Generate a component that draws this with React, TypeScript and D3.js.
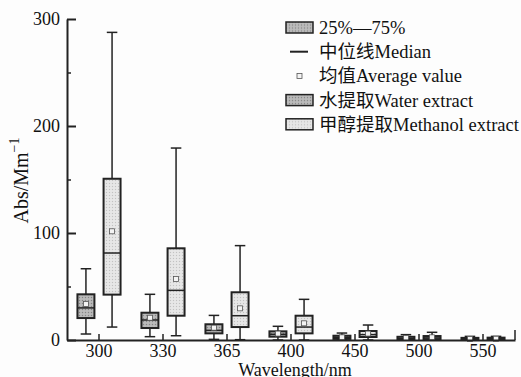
import React, { useRef, useEffect } from 'react';
import * as d3 from 'd3';

// wavelengths (nm)
const categories = ['300', '330', '365', '400', '450', '500', '550'];

// water extract box stats
const waterMin = [5.6, 3.1, 0.6, 0, 0, 0, 0];
const waterQ1 = [20.5, 11.2, 6.2, 3.1, 1, 0.5, 0.3];
const waterMedian = [30, 18.7, 9, 5.3, 2.5, 1.5, 1];
const waterQ3 = [42.7, 25.5, 14.7, 8.1, 4, 3, 2];
const waterMax = [66.6, 42.7, 23, 12.8, 6.5, 5, 3.4];
const waterMean = [33.6, 20.8, 11.5, 6, 2.5, 2, 1];

// methanol extract box stats
const methMin = [12.1, 4.0, 0.3, 0, 0, 0, 0];
const methQ1 = [42.4, 22.7, 12.1, 6.2, 2.8, 0.8, 0.3];
const methMedian = [81.3, 46.4, 22.7, 12.1, 5, 2, 1];
const methQ3 = [150.7, 85.7, 44.6, 22.7, 8.4, 3.7, 2.2];
const methMax = [287.5, 179.4, 88.2, 38, 14, 7.2, 3.4];
const methMean = [101.6, 57, 29.6, 15.6, 6, 2.5, 1.2];

const yTicks = [0, 100, 200, 300];
const yMinorTicks = [50, 150, 250];

const legendItems = ['25%—75%', '中位线Median', '均值Average value', '水提取Water extract', '甲醇提取Methanol extract'];

const width = 521;
const height = 377;
const FONT = "'Liberation Serif', 'Times New Roman', 'Noto Sans CJK SC', serif";

const x = d3.scaleBand().domain(categories).range([67, 515]).paddingInner(0).paddingOuter(0);
const sub = d3.scaleBand().domain(['water', 'meth']).range([0, x.bandwidth()]).paddingInner(0.35).paddingOuter(0.4);
const y = d3.scaleLinear().domain([0, 300]).range([340, 19]);

const series = [
  { key: 'water', fill: 'url(#patWater)', min: waterMin, q1: waterQ1, med: waterMedian, q3: waterQ3, max: waterMax, mean: waterMean },
  { key: 'meth', fill: 'url(#patMeth)', min: methMin, q1: methQ1, med: methMedian, q3: methQ3, max: methMax, mean: methMean },
];

const App = () => {
  const xAxisRef = useRef<SVGGElement>(null);
  const yAxisRef = useRef<SVGGElement>(null);
  const yMinorRef = useRef<SVGGElement>(null);

  useEffect(() => {
    const gx = d3.select(xAxisRef.current);
    gx.call(d3.axisBottom(x).tickSizeInner(-6).tickSizeOuter(0).tickPadding(4) as any);
    gx.selectAll('text').attr('font-size', 18).attr('font-family', FONT).attr('fill', '#111');
    gx.select('.domain').attr('stroke-width', 2).attr('stroke', '#222');
    gx.selectAll('.tick line').attr('stroke-width', 1.5).attr('stroke', '#222');
    gx.selectAll('.end-tick').remove();
    gx.append('line')
      .attr('class', 'end-tick')
      .attr('x1', x.range()[1]).attr('x2', x.range()[1])
      .attr('y1', 0).attr('y2', -10)
      .attr('stroke', '#222').attr('stroke-width', 1.5);

    const gy = d3.select(yAxisRef.current);
    gy.call(d3.axisLeft(y).tickValues(yTicks).tickSizeInner(-9).tickSizeOuter(0).tickPadding(7) as any);
    gy.selectAll('text').attr('font-size', 18).attr('font-family', FONT).attr('fill', '#111');
    gy.select('.domain').attr('stroke-width', 2).attr('stroke', '#222');
    gy.selectAll('.tick line').attr('stroke-width', 2).attr('stroke', '#222');

    const gm = d3.select(yMinorRef.current);
    gm.call(d3.axisLeft(y).tickValues(yMinorTicks).tickSizeInner(-4).tickSizeOuter(0).tickFormat(() => '') as any);
    gm.select('.domain').remove();
    gm.selectAll('.tick line').attr('stroke-width', 1.5).attr('stroke', '#222');
  }, []);

  const capW = sub.bandwidth() * 0.62;

  return (
    <div style={{ position: 'absolute', left: 0, top: 0 }}>
      <svg width={width} height={height} style={{ display: 'block', background: '#fdfdfd' }}>
        <defs>
          <pattern id="patWater" width={3} height={3} patternUnits="userSpaceOnUse">
            <rect width={3} height={3} fill="#b4b4b4" />
            <rect x={0} y={0} width={1} height={1} fill="#858585" />
            <rect x={1.5} y={1.5} width={1} height={1} fill="#cfcfcf" />
          </pattern>
          <pattern id="patMeth" width={3} height={3} patternUnits="userSpaceOnUse">
            <rect width={3} height={3} fill="#e4e4e4" />
            <rect x={0} y={0} width={1} height={1} fill="#c2c2c2" />
            <rect x={1.5} y={1.5} width={1} height={1} fill="#f3f3f3" />
          </pattern>
        </defs>

        {categories.map((c, i) => (
          <g key={c} transform={`translate(${x(c)},0)`}>
            {series.map((s) => {
              const x0 = sub(s.key)!;
              const bw = sub.bandwidth();
              const cx = x0 + bw / 2;
              return (
                <g key={s.key}>
                  <line x1={cx} x2={cx} y1={y(s.max[i])} y2={y(s.q3[i])} stroke="#222" strokeWidth={1.5} />
                  <line x1={cx} x2={cx} y1={y(s.q1[i])} y2={y(s.min[i])} stroke="#222" strokeWidth={1.5} />
                  <line x1={cx - capW / 2} x2={cx + capW / 2} y1={y(s.max[i])} y2={y(s.max[i])} stroke="#222" strokeWidth={1.5} />
                  <line x1={cx - capW / 2} x2={cx + capW / 2} y1={y(s.min[i])} y2={y(s.min[i])} stroke="#222" strokeWidth={1.5} />
                  <rect x={x0} y={y(s.q3[i])} width={bw} height={Math.max(1, y(s.q1[i]) - y(s.q3[i]))}
                    fill={s.fill} stroke="#222" strokeWidth={2} />
                  <line x1={x0} x2={x0 + bw} y1={y(s.med[i])} y2={y(s.med[i])} stroke="#222" strokeWidth={1.5} />
                  <rect x={cx - 2.5} y={y(s.mean[i]) - 2.5} width={5} height={5} fill="#f4f4f4" stroke="#555" strokeWidth={0.8} />
                </g>
              );
            })}
          </g>
        ))}

        <g ref={yMinorRef} transform={`translate(${x.range()[0]},0)`} />
        <g ref={yAxisRef} transform={`translate(${x.range()[0]},0)`} />
        <g ref={xAxisRef} transform={`translate(0,${y(0)})`} />

        <text x={(x.range()[0] + x.range()[1]) / 2 + 4} y={376} textAnchor="middle" fontSize={18} fontFamily={FONT} fill="#111">
          Wavelength/nm
        </text>
        <text transform={`translate(28,${(y.range()[0] + y.range()[1]) / 2 + 1}) rotate(-90)`} textAnchor="middle"
          fontSize={20} fontFamily={FONT} fill="#111">
          Abs/Mm<tspan fontSize={14} dy={-9}>−1</tspan>
        </text>

        <g transform="translate(286,27.5)" fontFamily={FONT} fontSize={18.5} fill="#111">
          {legendItems.map((label, i) => (
            <g key={label} transform={`translate(0,${i * 24.2})`}>
              {(i === 0 || i === 3) && <rect x={0} y={-5.5} width={27} height={11} fill="url(#patWater)" stroke="#222" strokeWidth={1.5} />}
              {i === 4 && <rect x={0} y={-5.5} width={27} height={11} fill="url(#patMeth)" stroke="#222" strokeWidth={1.5} />}
              {i === 1 && <line x1={4} x2={22} y1={0} y2={0} stroke="#222" strokeWidth={2} />}
              {i === 2 && <rect x={11} y={-2.5} width={5} height={5} fill="#f4f4f4" stroke="#555" strokeWidth={0.8} />}
              <text x={33} y={0} dy="0.35em">{label}</text>
            </g>
          ))}
        </g>
      </svg>
    </div>
  );
};

export default App;
